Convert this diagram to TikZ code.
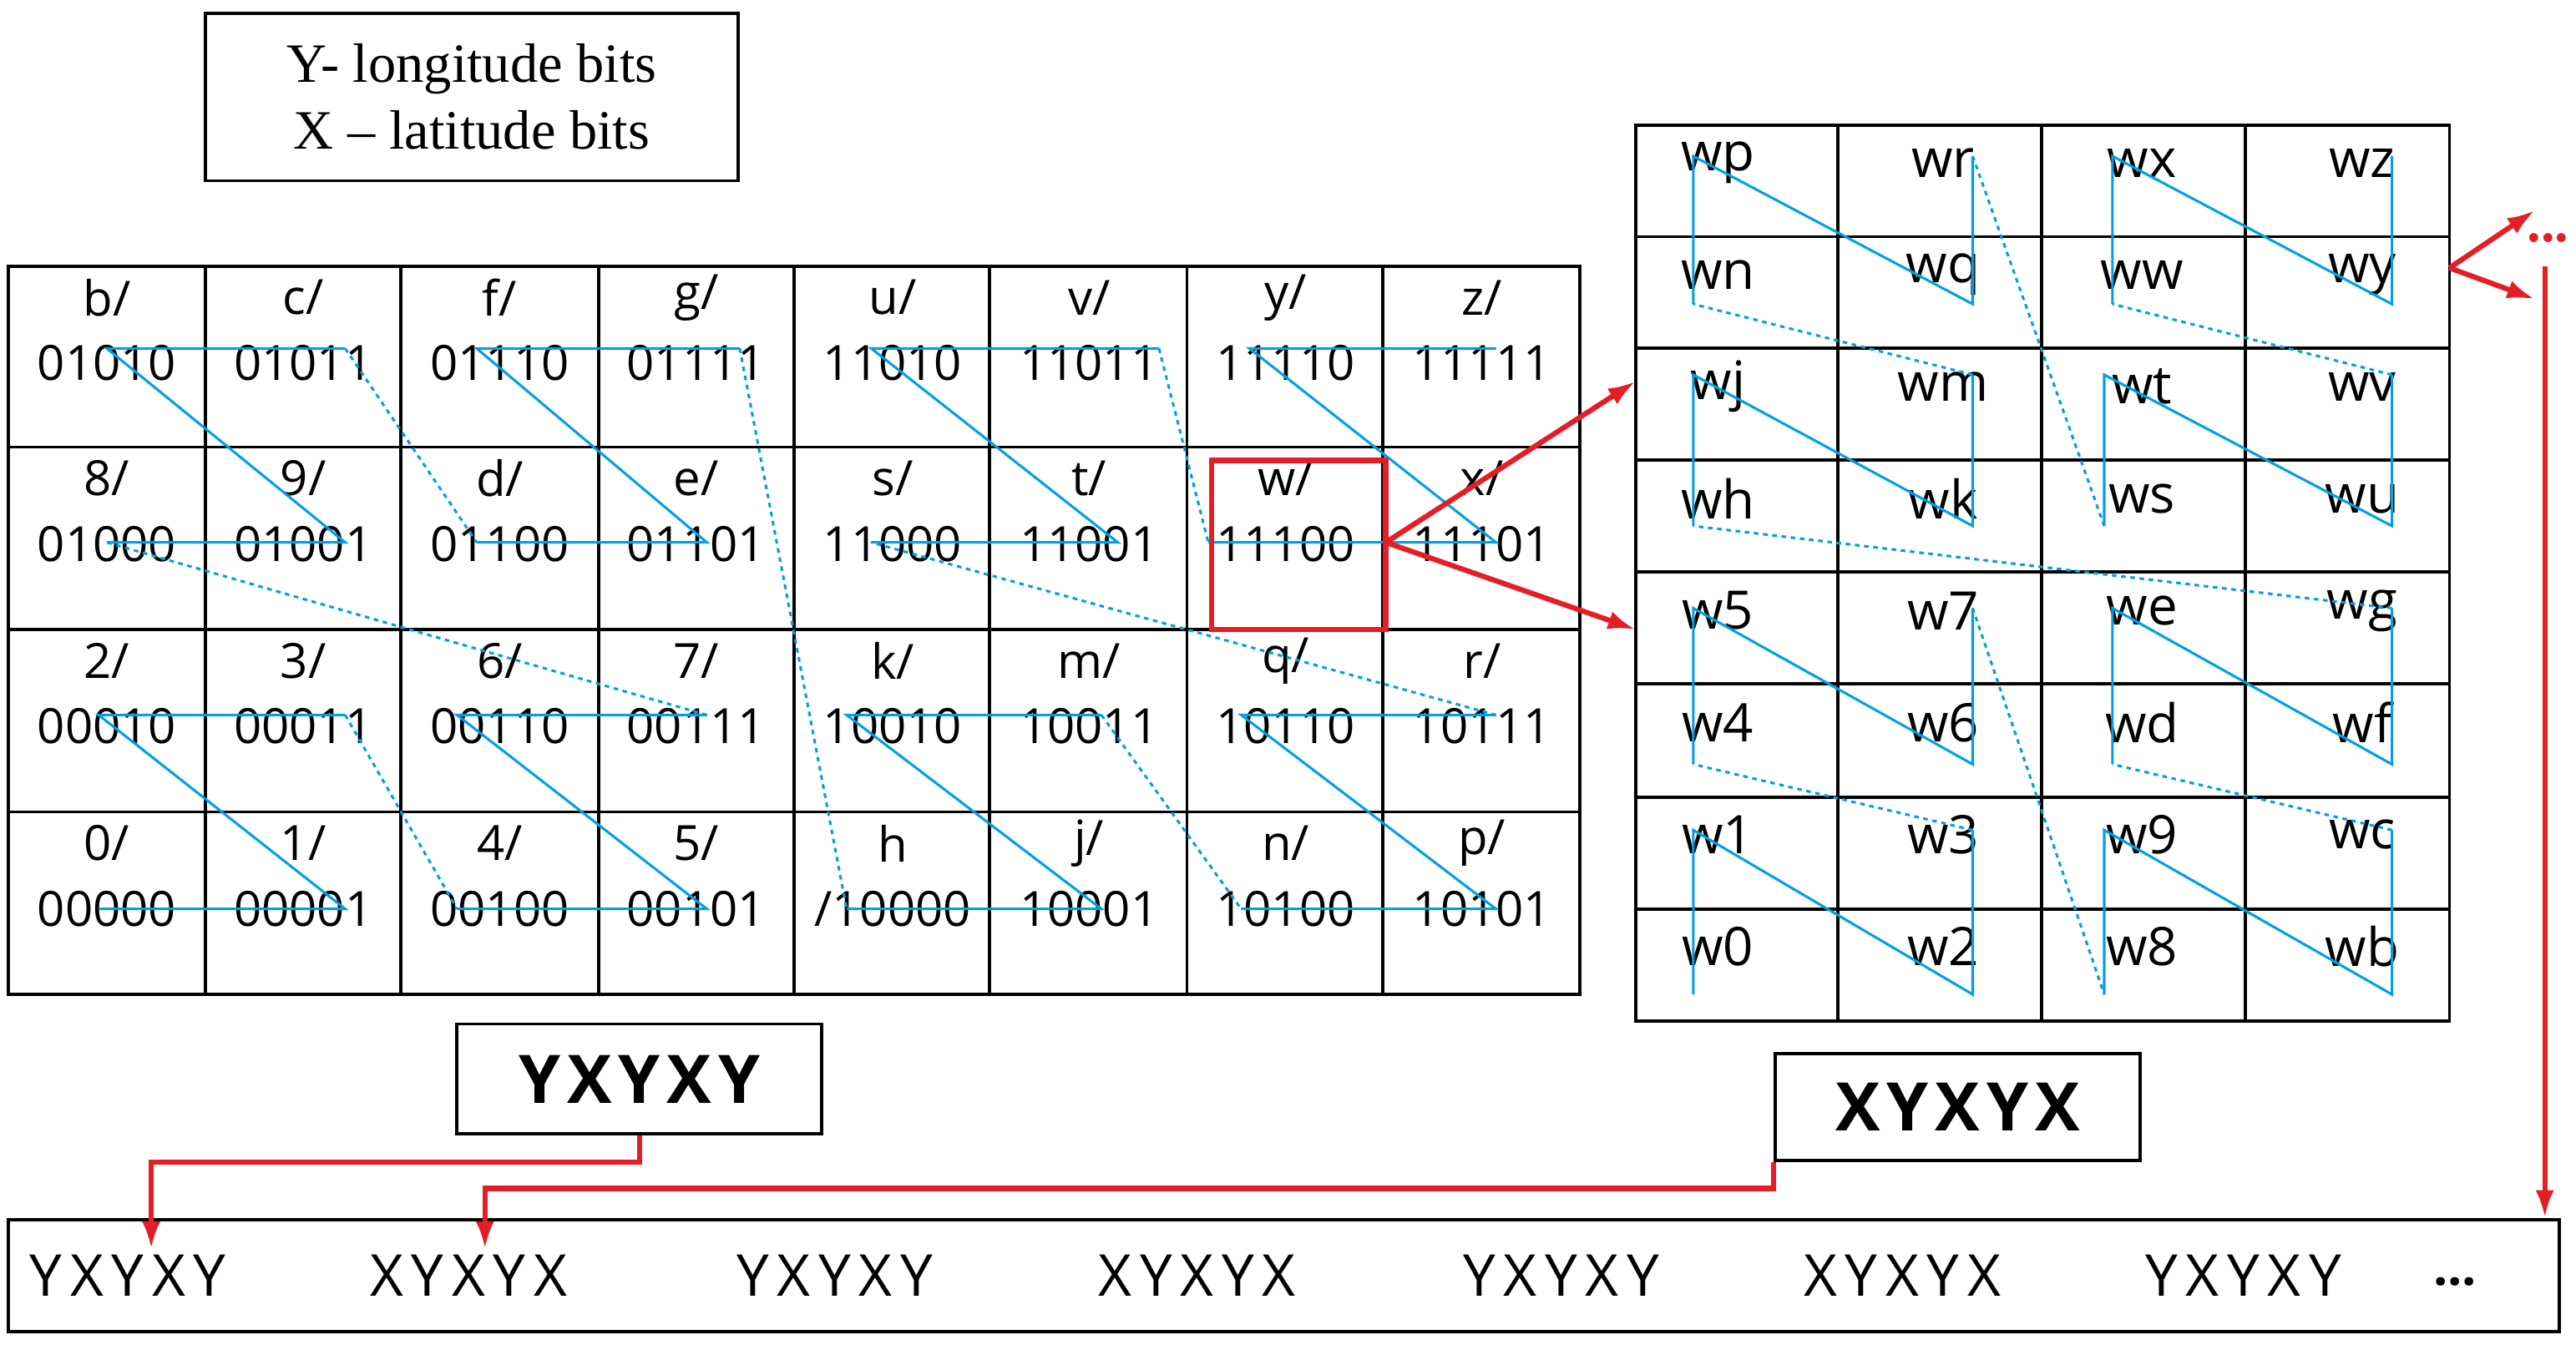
\documentclass[tikz,border=0pt]{standalone}
\usepackage{fontspec}
\setmainfont{Liberation Serif}
\newfontfamily\cellfont{Open Sans}
\usetikzlibrary{arrows.meta}
\definecolor{zb}{RGB}{0,160,227}
\definecolor{zr}{RGB}{228,30,38}
\begin{document}
\begin{tikzpicture}[x=0.05cm,y=-0.05cm,
  grid/.style={line width=2.8pt,black},
  cell/.style={font=\cellfont\fontsize{42}{50}\selectfont,inner sep=0pt,anchor=center},
  zs/.style={zb,line width=2.2pt},
  zd/.style={zb,line width=2.2pt,dash pattern=on 4pt off 4pt},
  ra/.style={zr,line width=4.5pt,-{Latex[length=24pt,width=16pt]}},
  box/.style={draw,line width=2.8pt,inner sep=0pt}]
\useasboundingbox (0,0) rectangle (1567,821);
% legend
\node[box,minimum width=324*0.05cm,minimum height=102*0.05cm,align=center,font=\fontsize{48}{58}\selectfont] (leg) at (287,59) {Y- longitude bits\\X -- latitude bits};
% left grid
\draw[grid] (5,162) rectangle (961,605);
\foreach \x in {125,244,364,483,602,722,841} \draw[grid] (\x,162)--(\x,605);
\foreach \y in {272,383,494} \draw[grid] (5,\y)--(961,\y);
\foreach \row/\y in {1/162,2/272,3/383,4/494}{
 \ifcase\row\or
  \def\lst{{b/}/01010,{c/}/01011,{f/}/01110,{g/}/01111,{u/}/11010,{v/}/11011,{y/}/11110,{z/}/11111}\or
  \def\lst{{8/}/01000,{9/}/01001,{d/}/01100,{e/}/01101,{s/}/11000,{t/}/11001,{w/}/11100,{x/}/11101}\or
  \def\lst{{2/}/00010,{3/}/00011,{6/}/00110,{7/}/00111,{k/}/10010,{m/}/10011,{q/}/10110,{r/}/10111}\or
  \def\lst{{0/}/00000,{1/}/00001,{4/}/00100,{5/}/00101,h/{/10000},{j/}/10001,{n/}/10100,{p/}/10101}\fi
 \foreach \t/\b [count=\i from 0] in \lst {
  \node[cell] (c\row-\i t) at (65+\i*119.5,\y+19) {\t};
  \node[cell] (c\row-\i b) at (65+\i*119.5,\y+59) {\b};
 }}
% left Z-order curve
\foreach \n/\px/\py in {0/60/553,1/210/553,2/60/435,3/210/435,4/278/553,5/430/553,6/278/435,7/430/435,
 8/65/330,9/210/330,b/65/212,c/210/212,d/290/330,e/430/330,f/290/212,g/450/212,
 h/515/553,j/670/553,k/515/435,m/670/435,n/755/553,p/910/553,q/755/435,r/910/435,
 s/530/330,t/680/330,u/530/212,v/705/212,w/735/330,x/910/330,y/760/212,z/910/212}
 \coordinate (L\n) at (\px,\py);
\draw[zs] (L0)--(L1)--(L2)--(L3) (L4)--(L5)--(L6)--(L7) (L8)--(L9)--(Lb)--(Lc) (Ld)--(Le)--(Lf)--(Lg)
 (Lh)--(Lj)--(Lk)--(Lm) (Ln)--(Lp)--(Lq)--(Lr) (Ls)--(Lt)--(Lu)--(Lv) (Lw)--(Lx)--(Ly)--(Lz);
\draw[zd] (L3)--(L4) (L7)--(L8) (Lc)--(Ld) (Lg)--(Lh) (Lm)--(Ln) (Lr)--(Ls) (Lv)--(Lw);
% red box
\draw[zr,line width=5pt] (737,280) rectangle (843,383);
\coordinate (wbox) at (843,330);
% right grid
\draw[grid] (995,76) rectangle (1490,621);
\foreach \x in {1118,1242,1366} \draw[grid] (\x,76)--(\x,621);
\foreach \y in {144,212,280,348,416,485,553} \draw[grid] (995,\y)--(1490,\y);
\foreach \row/\a/\b/\c/\d in {1/wp/wr/wx/wz,2/wn/wq/ww/wy,3/wj/wm/wt/wv,4/wh/wk/ws/wu,5/w5/w7/we/wg,6/w4/w6/wd/wf,7/w1/w3/w9/wc,8/w0/w2/w8/wb}{
 \node[cell,font=\cellfont\fontsize{46}{50}\selectfont] (r\row a) at (1045,76+\row*68.1-45) {\a};
 \node[cell,font=\cellfont\fontsize{46}{50}\selectfont] (r\row b) at (1182,76+\row*68.1-45) {\b};
 \node[cell,font=\cellfont\fontsize{46}{50}\selectfont] (r\row c) at (1303,76+\row*68.1-45) {\c};
 \node[cell,font=\cellfont\fontsize{46}{50}\selectfont] (r\row d) at (1437,76+\row*68.1-45) {\d};
}
\foreach \n/\px/\py in {0/1030/605,1/1030/505,2/1200/605,3/1200/505,4/1030/465,5/1030/370,6/1200/465,7/1200/370,
 8/1280/605,9/1280/505,b/1455/605,c/1455/505,d/1285/465,e/1285/370,f/1455/465,g/1455/370,
 h/1030/320,j/1030/228,k/1200/320,m/1200/228,n/1030/185,p/1030/95,q/1200/185,r/1200/95,
 s/1280/320,t/1280/228,u/1455/320,v/1455/228,w/1285/185,x/1285/95,y/1455/185,z/1455/95}
 \coordinate (R\n) at (\px,\py);
\draw[zs] (R0)--(R1)--(R2)--(R3) (R4)--(R5)--(R6)--(R7) (R8)--(R9)--(Rb)--(Rc) (Rd)--(Re)--(Rf)--(Rg)
 (Rh)--(Rj)--(Rk)--(Rm) (Rn)--(Rp)--(Rq)--(Rr) (Rs)--(Rt)--(Ru)--(Rv) (Rw)--(Rx)--(Ry)--(Rz);
\draw[zd] (R3)--(R4) (R7)--(R8) (Rc)--(Rd) (Rg)--(Rh) (Rm)--(Rn) (Rr)--(Rs) (Rv)--(Rw);
% red arrows
\coordinate (g1) at (995,232); \coordinate (g2) at (995,383);
\draw[ra] (wbox)--(g1); \draw[ra] (wbox)--(g2);
\coordinate (wyo) at (1490,163);
\coordinate (n1) at (1542,128); \coordinate (n2) at (1542,182);
\draw[ra] (wyo)--(n1); \draw[ra] (wyo)--(n2);
\node[zr,font=\bfseries\fontsize{48}{48}\selectfont,inner sep=0pt] (dots) at (1550,145) {...};
\coordinate (dtop) at (1548,162);
% boxes
\node[box,minimum width=222*0.05cm,minimum height=67*0.05cm,font=\cellfont\bfseries\fontsize{58}{60}\selectfont] (b1) at (389,656.5) {\addfontfeature{LetterSpace=10}YXYXY};
\node[box,minimum width=222*0.05cm,minimum height=65*0.05cm,font=\cellfont\bfseries\fontsize{58}{60}\selectfont] (b2) at (1191,673.5) {\addfontfeature{LetterSpace=10}XYXYX};
\node[box,minimum width=1552*0.05cm,minimum height=68*0.05cm] (seq) at (781,776) {};
\foreach \s/\px [count=\i] in {YXYXY/18,XYXYX/225,YXYXY/448,XYXYX/668,YXYXY/890,XYXYX/1097,YXYXY/1305}
 \node[cell,anchor=west,font=\cellfont\fontsize{50}{56}\selectfont] (s\i) at (\px,776) {\addfontfeature{LetterSpace=14}\s};
\node[cell,anchor=west,font=\cellfont\bfseries\fontsize{44}{48}\selectfont] (sdots) at (1480,780) {...};
% red elbow arrows
\draw[ra] (b1.south) |- (92,707) -- (92,760);
\draw[ra] (b2.south west) |- (295,723) -- (295,760);
\draw[ra] (dtop) -- (seq.north east -| dtop);
\end{tikzpicture}
\end{document}
